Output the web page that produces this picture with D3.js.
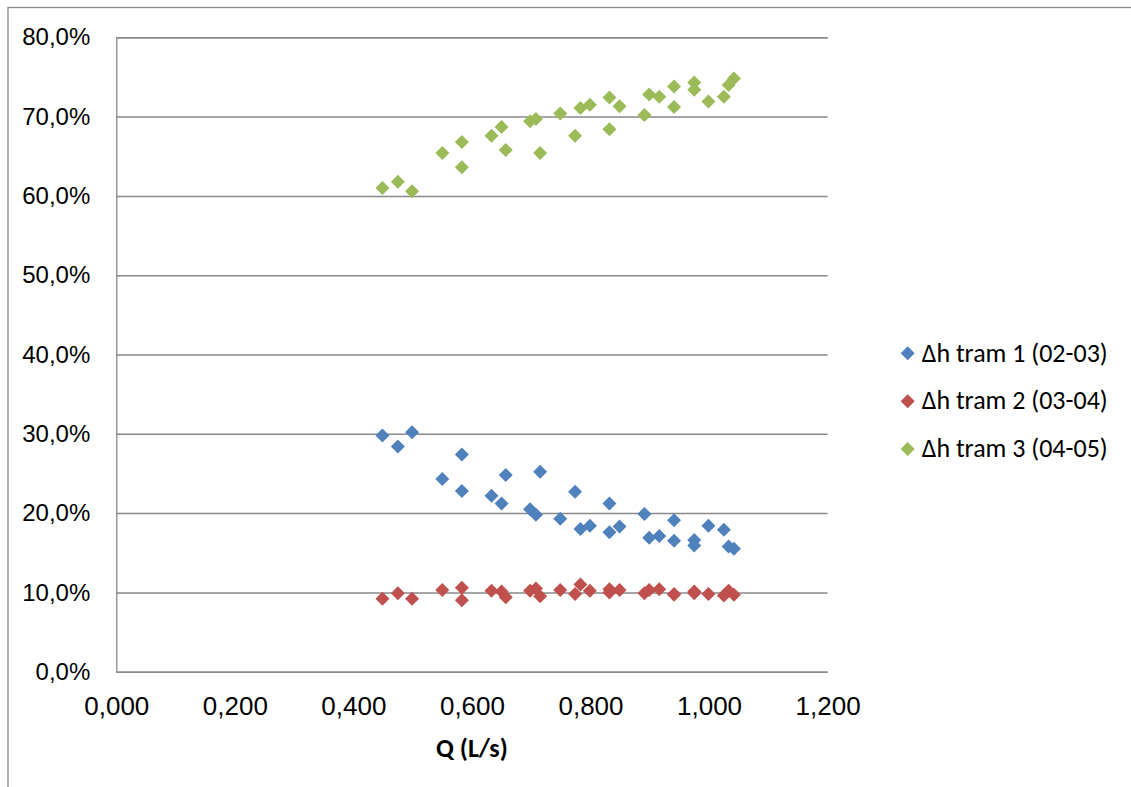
<!DOCTYPE html>
<html>
<head>
<meta charset="utf-8">
<script src="https://cdn.jsdelivr.net/npm/d3@7/dist/d3.min.js"></script>
<style>
  html, body { margin: 0; padding: 0; background: #fff; }
  svg { display: block; font-family: Carlito, "Liberation Sans", Arial, sans-serif; }
</style>
</head>
<body>
<svg id="chart" width="1131" height="787"></svg>
<script>
// Flow rate Q (L/s) for each measurement
const flow = [0.449, 0.475, 0.499, 0.550, 0.583, 0.583, 0.633, 0.650, 0.657, 0.698,
              0.708, 0.715, 0.749, 0.774, 0.783, 0.799, 0.832, 0.832, 0.849, 0.891,
              0.899, 0.916, 0.941, 0.941, 0.975, 0.975, 0.999, 1.025, 1.033, 1.042];
// Share of head loss per reach (%)
const tram1 = [29.8, 28.4, 30.2, 24.3, 27.4, 22.8, 22.2, 21.2, 24.8, 20.5,
               19.8, 25.2, 19.3, 22.7, 18.0, 18.4, 21.2, 17.6, 18.3, 19.9,
               16.9, 17.1, 19.1, 16.5, 16.6, 15.9, 18.4, 17.9, 15.8, 15.5];
const tram2 = [9.2, 9.9, 9.2, 10.3, 9.0, 10.6, 10.2, 10.1, 9.4, 10.2,
               10.5, 9.5, 10.3, 9.8, 11.0, 10.2, 10.4, 10.0, 10.3, 9.9,
               10.3, 10.4, 9.7, 9.8, 10.1, 9.9, 9.8, 9.6, 10.2, 9.7];
const tram3 = [61.0, 61.8, 60.6, 65.4, 63.6, 66.8, 67.6, 68.7, 65.8, 69.4,
               69.7, 65.4, 70.4, 67.6, 71.1, 71.5, 68.4, 72.4, 71.3, 70.2,
               72.8, 72.5, 71.2, 73.8, 73.4, 74.3, 71.9, 72.5, 74.0, 74.8];
const seriesNames = ["Δh tram 1 (02-03)", "Δh tram 2 (03-04)", "Δh tram 3 (04-05)"];
const seriesColors = ["#4F81BD", "#C0504D", "#9BBB59"];
const xTicks = [0, 0.2, 0.4, 0.6, 0.8, 1.0, 1.2];
const yTicks = [0, 10, 20, 30, 40, 50, 60, 70, 80];
const xTitle = "Q (L/s)";

const series = [tram1, tram2, tram3].map((vals, i) => ({
  name: seriesNames[i],
  color: seriesColors[i],
  points: vals.map((v, j) => ({ q: flow[j], v }))
}));

const svg = d3.select("#chart");
const plot = { left: 116.3, right: 827.6, top: 37.3, bottom: 671.7 };
const fontSize = 26;

const x = d3.scaleLinear().domain([0, 1.2]).range([plot.left, plot.right]);
const y = d3.scaleLinear().domain([0, 80]).range([plot.bottom, plot.top]);

const gridColor = "#898989";
const fmtX = v => d3.format(".3f")(v).replace(".", ",");
const fmtY = v => d3.format(".1f")(v).replace(".", ",") + "%";

// outer chart frame
svg.append("rect")
  .attr("x", 8).attr("y", 7.5)
  .attr("width", 1200).attr("height", 900)
  .attr("fill", "none").attr("stroke", gridColor).attr("stroke-width", 1.3);

// horizontal gridlines with the y labels
const yAxis = d3.axisLeft(y).tickValues(yTicks).tickFormat(fmtY)
  .tickSize(-(plot.right - plot.left)).tickPadding(26);
const gy = svg.append("g").attr("transform", `translate(${plot.left},0)`).call(yAxis);
gy.select(".domain").attr("stroke", gridColor).attr("stroke-width", 1.3);
gy.selectAll(".tick line").attr("stroke", gridColor).attr("stroke-width", 1.5);
gy.selectAll(".tick text").attr("font-size", 24).attr("fill", "#000").attr("dy", "0.32em").attr("x", -26);

// x axis labels (no tick marks)
const xAxis = d3.axisBottom(x).tickValues(xTicks).tickFormat(fmtX).tickSize(0).tickPadding(0);
const gx = svg.append("g").attr("transform", `translate(0,${plot.bottom})`).call(xAxis);
gx.select(".domain").remove();
gx.selectAll(".tick text").attr("font-size", fontSize).attr("fill", "#000").attr("dy", 0).attr("y", 43.3);

svg.append("text")
  .attr("x", (plot.left + plot.right) / 2).attr("y", 757)
  .attr("text-anchor", "middle").attr("font-size", fontSize).attr("font-weight", "bold")
  .text(xTitle);

// diamond marker
const diamond = "M0,-7L7,0L0,7L-7,0Z";

series.forEach(s => {
  svg.append("g").selectAll("path").data(s.points).join("path")
    .attr("d", diamond)
    .attr("transform", d => `translate(${x(d.q)},${y(d.v)})`)
    .attr("fill", s.color);
});

// legend
const legend = svg.append("g").selectAll("g").data(series).join("g")
  .attr("transform", (d, i) => `translate(907.7,${353.3 + i * 47.85})`);
legend.append("path").attr("d", diamond).attr("fill", d => d.color);
legend.append("text")
  .attr("x", 14).attr("dy", "0.32em")
  .attr("font-size", fontSize).attr("fill", "#000")
  .text(d => d.name);
</script>
</body>
</html>
